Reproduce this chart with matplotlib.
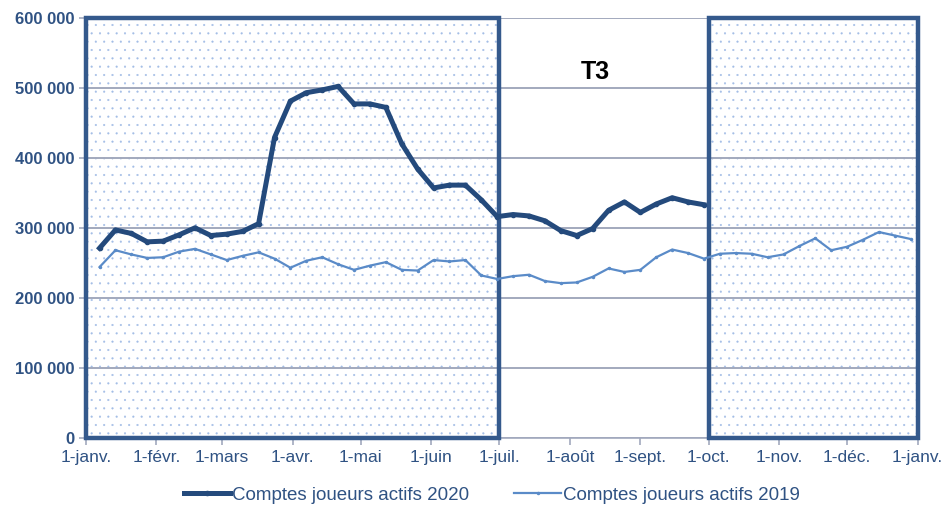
import matplotlib
matplotlib.use("Agg")
import matplotlib.pyplot as plt
from matplotlib.patches import Rectangle
from matplotlib.ticker import FuncFormatter

plt.rcParams["font.family"] = ["Liberation Sans", "DejaVu Sans"]
plt.rcParams["hatch.linewidth"] = 0.3

# jours depuis le 1er janvier 2020, un point par semaine
days = [6 + 7 * k for k in range(52)]

actifs_2020 = [271, 297, 292, 280, 281, 290, 300, 289, 291, 295,
               306, 429, 481, 493, 497, 502, 477, 477, 472, 420,
               384, 357, 361, 361, 340, 316, 319, 317, 310, 296,
               289, 299, 325, 337, 322, 334, 343, 337, 333]
actifs_2019 = [244, 268, 262, 257, 258, 266, 270, 262, 254, 260,
               265, 256, 243, 253, 258, 248, 240, 246, 251, 240,
               239, 254, 252, 254, 232, 227, 231, 233, 224, 221,
               222, 230, 242, 237, 240, 258, 269, 264, 256, 263,
               264, 263, 258, 262, 274, 285, 268, 273, 283, 294,
               289, 284]

month_days = [0, 31, 60, 91, 121, 152, 182, 213, 244, 274, 305, 335, 366]
month_labels = ["1-janv.", "1-févr.", "1-mars", "1-avr.", "1-mai", "1-juin",
                "1-juil.", "1-août", "1-sept.", "1-oct.", "1-nov.", "1-déc.",
                "1-janv."]
y_ticks = [0, 100000, 200000, 300000, 400000, 500000, 600000]

DARK = "#244a7c"
LIGHT = "#5a8bc8"
BORDER = "#34598c"
TEXT = "#2f5283"
GRID = "#a2a9bd"

fig = plt.figure(figsize=(9.44, 5.08), dpi=100)
ax = fig.add_axes([0.091, 0.138, 0.881, 0.827])

ax.set_xlim(0, 366)
ax.set_ylim(0, 600000)

# zones hors T3 : fond pointillé + cadre épais
for x0, x1 in [(0, 182), (274, 366)]:
    ax.add_patch(Rectangle((x0, 0), x1 - x0, 600000, facecolor="white",
                           edgecolor="#a3bde6", hatch="..", linewidth=0,
                           zorder=0))
    ax.add_patch(Rectangle((x0, 0), x1 - x0, 600000, fill=False,
                           edgecolor=BORDER, linewidth=3.2, zorder=4,
                           clip_on=False))

ax.set_yticks(y_ticks)
ax.yaxis.set_major_formatter(FuncFormatter(lambda v, p: f"{int(v):,}".replace(",", " ")))
ax.set_xticks(month_days)
ax.set_xticklabels(month_labels)
ax.grid(True, axis="y", color=GRID, linewidth=1.4, zorder=1)
ax.set_axisbelow(False)

for s in ["top", "right"]:
    ax.spines[s].set_visible(False)
for s in ["left", "bottom"]:
    ax.spines[s].set_color(GRID)
    ax.spines[s].set_linewidth(1.2)
ax.tick_params(axis="both", direction="out", length=5, color=GRID, width=1.2,
               labelcolor=TEXT)
ax.tick_params(axis="x", labelsize=12.5)
ax.tick_params(axis="y", labelsize=12)
for lab in ax.get_yticklabels():
    lab.set_fontweight("bold")

ax.plot(days[:len(actifs_2020)], [v * 1000 for v in actifs_2020], color=DARK,
        linewidth=3.6, marker="o", markersize=3, solid_joinstyle="round",
        label="Comptes joueurs actifs 2020", zorder=5)
ax.plot(days, [v * 1000 for v in actifs_2019], color=LIGHT, linewidth=1.6,
        marker="o", markersize=1.5, solid_joinstyle="round",
        label="Comptes joueurs actifs 2019", zorder=5)

ax.text(224, 523000, "T3", fontsize=18, fontweight="bold", ha="center",
        va="center", color="black")

leg = fig.legend(loc="center", bbox_to_anchor=(0.521, 0.025), ncol=2,
                 frameon=False, fontsize=13.5, handlelength=2.5,
                 columnspacing=2.4, handletextpad=0.1)
for t in leg.get_texts():
    t.set_color(TEXT)

fig.savefig("out.png", dpi=100)
